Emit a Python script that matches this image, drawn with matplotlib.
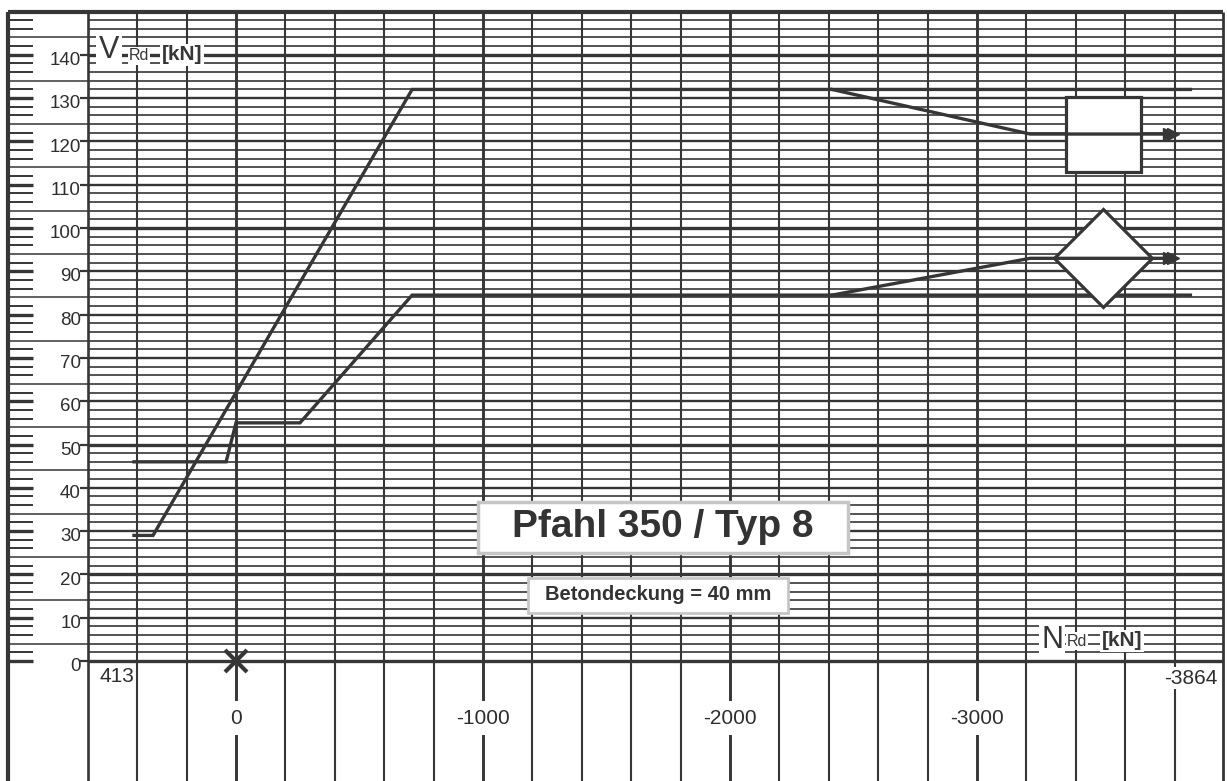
import matplotlib
matplotlib.use("Agg")
import matplotlib.pyplot as plt
from matplotlib.patches import Rectangle
from matplotlib.transforms import offset_copy

plt.rcParams['font.family'] = ['Liberation Sans', 'DejaVu Sans']

# ---------------- data ----------------
N_upper = [413, 336, -713, -3864]
V_upper = [29, 29, 132, 132]
N_upper_branch = [-2413, -3215, -3794]
V_upper_branch = [132, 121.7, 121.7]

N_lower = [413, 40, 0, -259, -713, -3864]
V_lower = [46, 46, 55, 55, 84.5, 84.5]
N_lower_branch = [-2413, -3215, -3794]
V_lower_branch = [84.5, 93, 93]

symbol_N = -3510
symbol_V_square = 121.7
symbol_V_diamond = 93

x_tick_values = [0, -1000, -2000, -3000]
x_tick_labels = ['0', '-1000', '-2000', '-3000']
x_range = [413, -3864]
x_range_labels = ['413', '-3864']
y_tick_values = list(range(0, 150, 10))
y_tick_labels = [str(v) for v in y_tick_values]

title_text = 'Pfahl 350 / Typ 8'
subtitle_text = 'Betondeckung = 40 mm'

# ---------------- layout helpers (pixel -> data) ----------------
PX0, PXK = 236.0, 0.247   # pixel x of N=0, px per kN
PY0, PYK = 661.0, 4.33    # pixel y of V=0, px per kN


def nx(px):
    return (PX0 - px) / PXK


def vy(py):
    return (PY0 - py) / PYK


C = '#363636'

fig = plt.figure(figsize=(12.27, 7.81), dpi=100)
ax = fig.add_axes([0, 0, 1, 1])
ax.set_xlim(nx(0), nx(1227))
ax.set_ylim(vy(781), vy(0))
ax.axis('off')

N_left_border = nx(8)
N_axis = 600
N_right = nx(1223)
V_top = 150
V_bottom = vy(781)

# horizontal grid
for v in range(0, 150, 2):
    if v in (0, 20, 50, 100, 140):
        lw = 2.4
    elif v % 10 == 0:
        lw = 1.7
    else:
        lw = 1.2
    ax.hlines(v, N_axis, N_right, color=C, lw=lw, zorder=1)
    if v % 10 == 4:
        ax.hlines(v, N_left_border, N_axis, color=C, lw=1.1, zorder=1)
    elif v % 10 == 0:
        ax.hlines(v, N_left_border, nx(33), color=C, lw=2.4, zorder=1)
        ax.hlines(v, nx(80), N_axis, color=C, lw=1.6, zorder=1)
    else:
        ax.hlines(v, N_left_border, nx(33), color=C, lw=1.4, zorder=1)

# vertical grid
for n in range(600, -3801, -200):
    lw = 2.1 if n % 1000 == 0 else 1.5
    if n == 600:
        lw = 1.9
    ax.vlines(n, V_bottom, V_top, color=C, lw=lw, zorder=1)

# frame
ax.vlines(N_left_border, V_bottom, V_top, color=C, lw=3.0, zorder=2)
ax.vlines(N_right, V_bottom, V_top, color=C, lw=2.0, zorder=2)
ax.hlines(V_top, N_left_border, N_right, color=C, lw=3.0, zorder=2)

# curves
ax.plot(N_upper, V_upper, color=C, lw=2.4, zorder=3, solid_joinstyle='miter')
ax.plot(N_lower, V_lower, color=C, lw=2.4, zorder=3, solid_joinstyle='miter')

# symbols
ax.plot([symbol_N], [symbol_V_square], marker='s', ms=54, mfc='white',
        mec=C, mew=2.3, zorder=4)
ax.plot([symbol_N], [symbol_V_diamond], marker='D', ms=50, mfc='white',
        mec=C, mew=2.3, zorder=4)

ax.plot(N_upper_branch, V_upper_branch, color=C, lw=2.4, zorder=5)
ax.plot(N_lower_branch, V_lower_branch, color=C, lw=2.4, zorder=5)

# double arrow heads at the branch ends
for nb, vb in ((N_upper_branch, V_upper_branch), (N_lower_branch, V_lower_branch)):
    for dx in (0, -4):
        tr = offset_copy(ax.transData, fig=fig, x=dx, y=0, units='dots')
        ax.plot([nb[-1]], [vb[-1]], marker='>', ms=8, color=C, zorder=6,
                transform=tr)

# origin marker
ax.plot([0], [0], marker='x', ms=16, mew=3, color=C, zorder=6)

# y tick labels
for v, lab in zip(y_tick_values, y_tick_labels):
    ax.text(nx(81), v - 1.3, lab, ha='right', va='center', fontsize=13.5,
            color='#2e2e2e', zorder=7)

# x tick labels
for n, lab in zip(x_tick_values, x_tick_labels):
    ax.text(n, vy(718), lab, ha='center', va='center', fontsize=15, color='#2e2e2e',
            zorder=7, bbox=dict(boxstyle='square,pad=0.35', fc='white', ec='none'))
ax.text(x_range[0], vy(677), x_range_labels[0], ha='right', va='center',
        fontsize=15, color='#2e2e2e', zorder=7)
ax.text(x_range[1], vy(678), x_range_labels[1], ha='center', va='center',
        fontsize=15, color='#2e2e2e', zorder=7,
        bbox=dict(boxstyle='square,pad=0.08', fc='white', ec='none'))

# axis titles
wb = dict(boxstyle='square,pad=0.08', fc='white', ec='none')
ax.text(nx(109), vy(50), 'V', ha='center', va='center', fontsize=22,
        color=C, zorder=7, bbox=wb)
ax.text(nx(139), vy(56), 'Rd', ha='center', va='center', fontsize=11.5,
        color=C, zorder=7, bbox=wb)
ax.text(nx(182), vy(55), '[kN]', ha='center', va='center', fontsize=15,
        fontweight='bold', color=C, zorder=7, bbox=wb)

ax.text(nx(1052), vy(640), 'N', ha='center', va='center', fontsize=22,
        color=C, zorder=7, bbox=wb)
ax.text(nx(1077), vy(641), 'Rd', ha='center', va='center', fontsize=11.5,
        color=C, zorder=7, bbox=wb)
ax.text(nx(1122), vy(641), '[kN]', ha='center', va='center', fontsize=15,
        fontweight='bold', color=C, zorder=7, bbox=wb)

# title boxes
ax.add_patch(Rectangle((nx(478), vy(553)), nx(848) - nx(478), vy(502) - vy(553),
                       fc='white', ec='#c6c6c6', lw=2.5, zorder=6))
ax.text((nx(478) + nx(848)) / 2, vy(527), title_text, ha='center', va='center',
        fontsize=28, fontweight='bold', color='#333333', zorder=7)

ax.add_patch(Rectangle((nx(528), vy(613)), nx(788) - nx(528), vy(578) - vy(613),
                       fc='white', ec='#c6c6c6', lw=2.0, zorder=6))
ax.text((nx(528) + nx(788)) / 2, vy(595), subtitle_text, ha='center', va='center',
        fontsize=14.5, fontweight='bold', color='#333333', zorder=7)

fig.savefig('out.png', dpi=100)
